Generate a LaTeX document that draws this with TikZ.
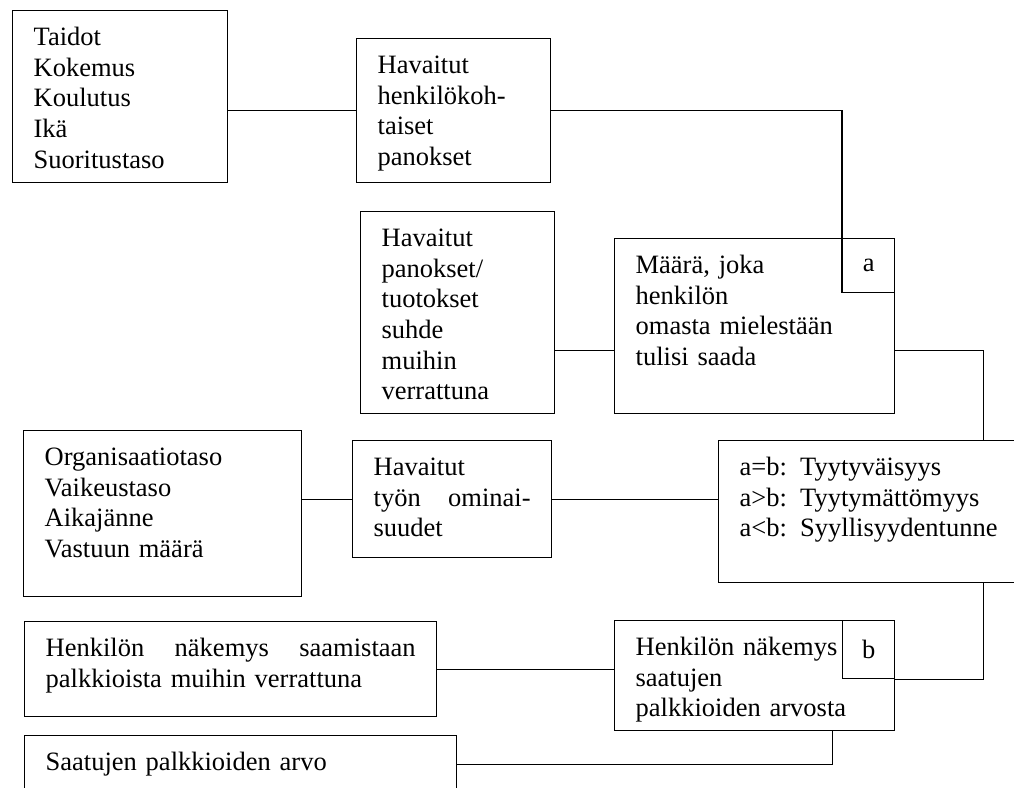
\documentclass[tikz,border=0pt]{standalone}
\usepackage{fontspec}
\setmainfont{Liberation Serif}
\usetikzlibrary{positioning,calc}

\begin{document}
\begin{tikzpicture}[x=1pt, y=1pt,
    box/.style={draw, line width=1.3pt, anchor=north west, align=left, inner xsep=21pt, inner ysep=0pt, text height=35pt, font=\fontsize{26.5}{30.6}\selectfont},
    tag/.style={draw, line width=1.3pt, minimum width=52pt, minimum height=54pt, inner sep=0pt, anchor=north east, font=\fontsize{26.5}{30.6}\selectfont},
    link/.style={line width=1.3pt}]
    \useasboundingbox (0,0) rectangle (1014,-787);
    \clip (0,0) rectangle (1014,-787);

    \node [box, text width=173pt, text depth=137pt] (skills) at (12,-10) {Taidot\\Kokemus\\Koulutus\\Ikä\\Suoritustaso};
    \node [box, text width=152pt, text depth=109pt] (inputs) at (356,-38) {Havaitut\\henkilökoh-\\taiset\\panokset};
    \node [box, text width=152pt, text depth=167pt] (compare) at (360,-211) {Havaitut\\panokset/\\tuotokset\\suhde\\muihin\\verrattuna};
    \node [box, text width=238pt, text depth=140pt] (deserve) at (614,-238) {Määrä, joka\\henkilön\\omasta mielestään\\tulisi saada};
    \node [tag] (abox) at (deserve.north east) {a};

    \node [box, text width=236pt, text depth=131pt] (job) at (23,-430) {Organisaatiotaso\\Vaikeustaso\\Aikajänne\\Vastuun määrä};
    \node [box, text width=157pt, text depth=82pt] (jobperc) at (352,-440) {Havaitut\\työn\hfill ominai-\\suudet};
    \node [box, text width=488pt, text depth=107pt] (result) at (718,-440) {a=b: Tyytyväisyys\\a>b: Tyytymättömyys\\a<b: Syyllisyydentunne};

    \node [box, text width=370pt, text depth=60pt] (peer) at (24,-621) {Henkilön\hfill näkemys\hfill saamistaan\\palkkioista muihin verrattuna};
    \node [box, text width=238pt, text depth=75pt] (valueperc) at (614,-620) {Henkilön näkemys\\saatujen\\palkkioiden arvosta};
    \node [tag, minimum height=58pt] (bbox) at (valueperc.north east) {b};
    \node [box, text width=390pt, text depth=23pt] (valuebox) at (24,-735) {Saatujen palkkioiden arvo};

    % connectors
    \draw [link] (skills.east |- inputs.west) -- (inputs.west);
    \draw [link] (inputs.east) -| (abox.south west);
    \draw [link] ($(deserve.west)+(0,-24.5)$) coordinate (dw) -- (dw -| compare.east);
    \draw [link] (dw -| deserve.east) -| (result.north);
    \draw [link] (job.east |- jobperc.west) -- (jobperc.west);
    \draw [link] (jobperc.east) -- (jobperc.east -| result.west);
    \draw [link] (result.south) |- (bbox.south east);
    \draw [link] (peer.east) -- (peer.east -| valueperc.west);
    \draw [link] ([xshift=-63pt]valueperc.south east) |- (valuebox.east);
\end{tikzpicture}
\end{document}
